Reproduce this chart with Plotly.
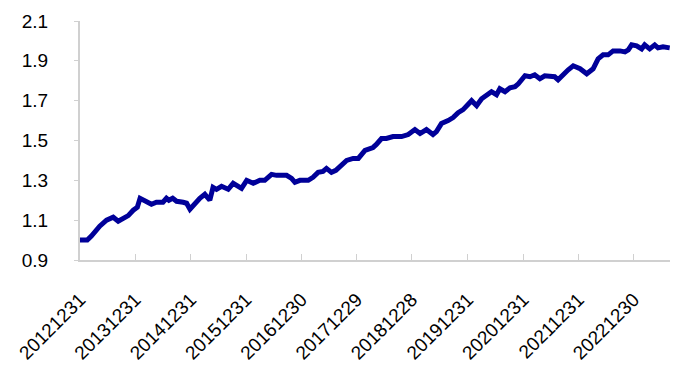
import plotly.graph_objects as go

dates = [
    "2012-12-31", "2013-02-17", "2013-03-16", "2013-05-10", "2013-06-24", "2013-08-07",
    "2013-09-09", "2013-10-23", "2013-11-14", "2013-12-17", "2014-01-13", "2014-01-31",
    "2014-03-03", "2014-04-16", "2014-05-19", "2014-07-01", "2014-07-24", "2014-08-09",
    "2014-09-03", "2014-09-29", "2014-11-11", "2014-12-04", "2014-12-26", "2015-01-28",
    "2015-03-01", "2015-04-03", "2015-05-06", "2015-05-27", "2015-06-19", "2015-07-22",
    "2015-09-04", "2015-10-07", "2015-12-01", "2016-01-04", "2016-02-16", "2016-03-31",
    "2016-05-02", "2016-06-16", "2016-07-19", "2016-09-23", "2016-10-26", "2016-11-17",
    "2016-12-20", "2017-02-13", "2017-03-16", "2017-04-19", "2017-05-21", "2017-06-13",
    "2017-07-16", "2017-08-14", "2017-09-21", "2017-10-24", "2017-12-06", "2018-01-09",
    "2018-02-22", "2018-04-16", "2018-05-08", "2018-06-11", "2018-07-13", "2018-08-26",
    "2018-10-21", "2018-12-04", "2019-01-17", "2019-02-20", "2019-04-03", "2019-05-16",
    "2019-06-08", "2019-07-11", "2019-08-24", "2019-09-26", "2019-10-29", "2019-12-01",
    "2020-01-26", "2020-02-28", "2020-04-01", "2020-05-14", "2020-06-05", "2020-07-08",
    "2020-07-30", "2020-09-02", "2020-10-05", "2020-11-07", "2020-11-29", "2021-01-12",
    "2021-02-14", "2021-03-17", "2021-04-20", "2021-05-22", "2021-07-05", "2021-07-27",
    "2021-08-18", "2021-09-21", "2021-10-24", "2021-11-26", "2022-01-10", "2022-02-23",
    "2022-04-06", "2022-05-09", "2022-06-11", "2022-07-14", "2022-08-16", "2022-09-30",
    "2022-11-02", "2022-11-24", "2022-12-16", "2023-01-18", "2023-02-20", "2023-03-12",
    "2023-04-14", "2023-05-17", "2023-06-08", "2023-07-11", "2023-08-24",
]

values = [
    1.00, 1.00, 1.02, 1.07, 1.10, 1.115,
    1.095, 1.115, 1.123, 1.15, 1.165, 1.21,
    1.195, 1.18, 1.19, 1.19, 1.21, 1.20,
    1.21, 1.195, 1.19, 1.185, 1.155, 1.185,
    1.21, 1.23, 1.20, 1.265, 1.255, 1.27,
    1.255, 1.285, 1.26, 1.30, 1.285, 1.30,
    1.30, 1.33, 1.325, 1.325, 1.31, 1.29,
    1.30, 1.30, 1.315, 1.34, 1.345, 1.36,
    1.34, 1.35, 1.38, 1.40, 1.41, 1.41,
    1.45, 1.465, 1.48, 1.51, 1.51, 1.52,
    1.52, 1.53, 1.555, 1.535, 1.555, 1.53,
    1.545, 1.585, 1.60, 1.615, 1.64, 1.655,
    1.70, 1.675, 1.71, 1.735, 1.745, 1.73,
    1.76, 1.745, 1.765, 1.77, 1.785, 1.825,
    1.82, 1.83, 1.81, 1.825, 1.825, 1.82,
    1.805, 1.835, 1.855, 1.875, 1.86, 1.835,
    1.86, 1.91, 1.93, 1.93, 1.95, 1.95,
    1.945, 1.955, 1.98, 1.975, 1.96, 1.98,
    1.96, 1.98, 1.965, 1.97, 1.965,
]

tick_dates = [
    "2012-12-31", "2013-12-31", "2014-12-31", "2015-12-31", "2016-12-30",
    "2017-12-29", "2018-12-28", "2019-12-31", "2020-12-31", "2021-12-31", "2022-12-30",
]
tick_labels = [
    "20121231", "20131231", "20141231", "20151231", "20161230",
    "20171229", "20181228", "20191231", "20201231", "20211231", "20221230",
]
y_ticks = [0.9, 1.1, 1.3, 1.5, 1.7, 1.9, 2.1]

axis_gray = "#D0D0D0"
font_family = "Liberation Sans, Arial, sans-serif"

fig = go.Figure()
fig.add_trace(go.Scatter(
    x=dates, y=values, mode="lines",
    line=dict(color="#000099", width=5),
    showlegend=False,
))

fig.update_layout(
    width=681, height=378,
    margin=dict(l=80, r=11, t=19, b=118),
    paper_bgcolor="white", plot_bgcolor="white",
    font=dict(family=font_family, size=19, color="black"),
)
fig.update_xaxes(
    type="date",
    range=["2012-12-31", "2023-08-26"],
    tickmode="array", tickvals=tick_dates, ticktext=tick_labels,
    tickangle=-45,
    ticks="inside", ticklen=6, tickcolor=axis_gray, tickwidth=1,
    showline=True, linecolor=axis_gray, linewidth=2,
    showgrid=False, zeroline=False,
    ticklabelstandoff=19,
    tickfont=dict(size=19),
)
fig.update_yaxes(
    range=[0.9, 2.1],
    tickmode="array", tickvals=y_ticks, ticktext=[f"{v:.1f}" for v in y_ticks],
    ticks="outside", ticklen=4, tickcolor=axis_gray, tickwidth=1,
    showline=True, linecolor=axis_gray, linewidth=2,
    showgrid=False, zeroline=False,
    ticklabelstandoff=22,
    tickfont=dict(size=19),
)

fig.write_html("out.html")
